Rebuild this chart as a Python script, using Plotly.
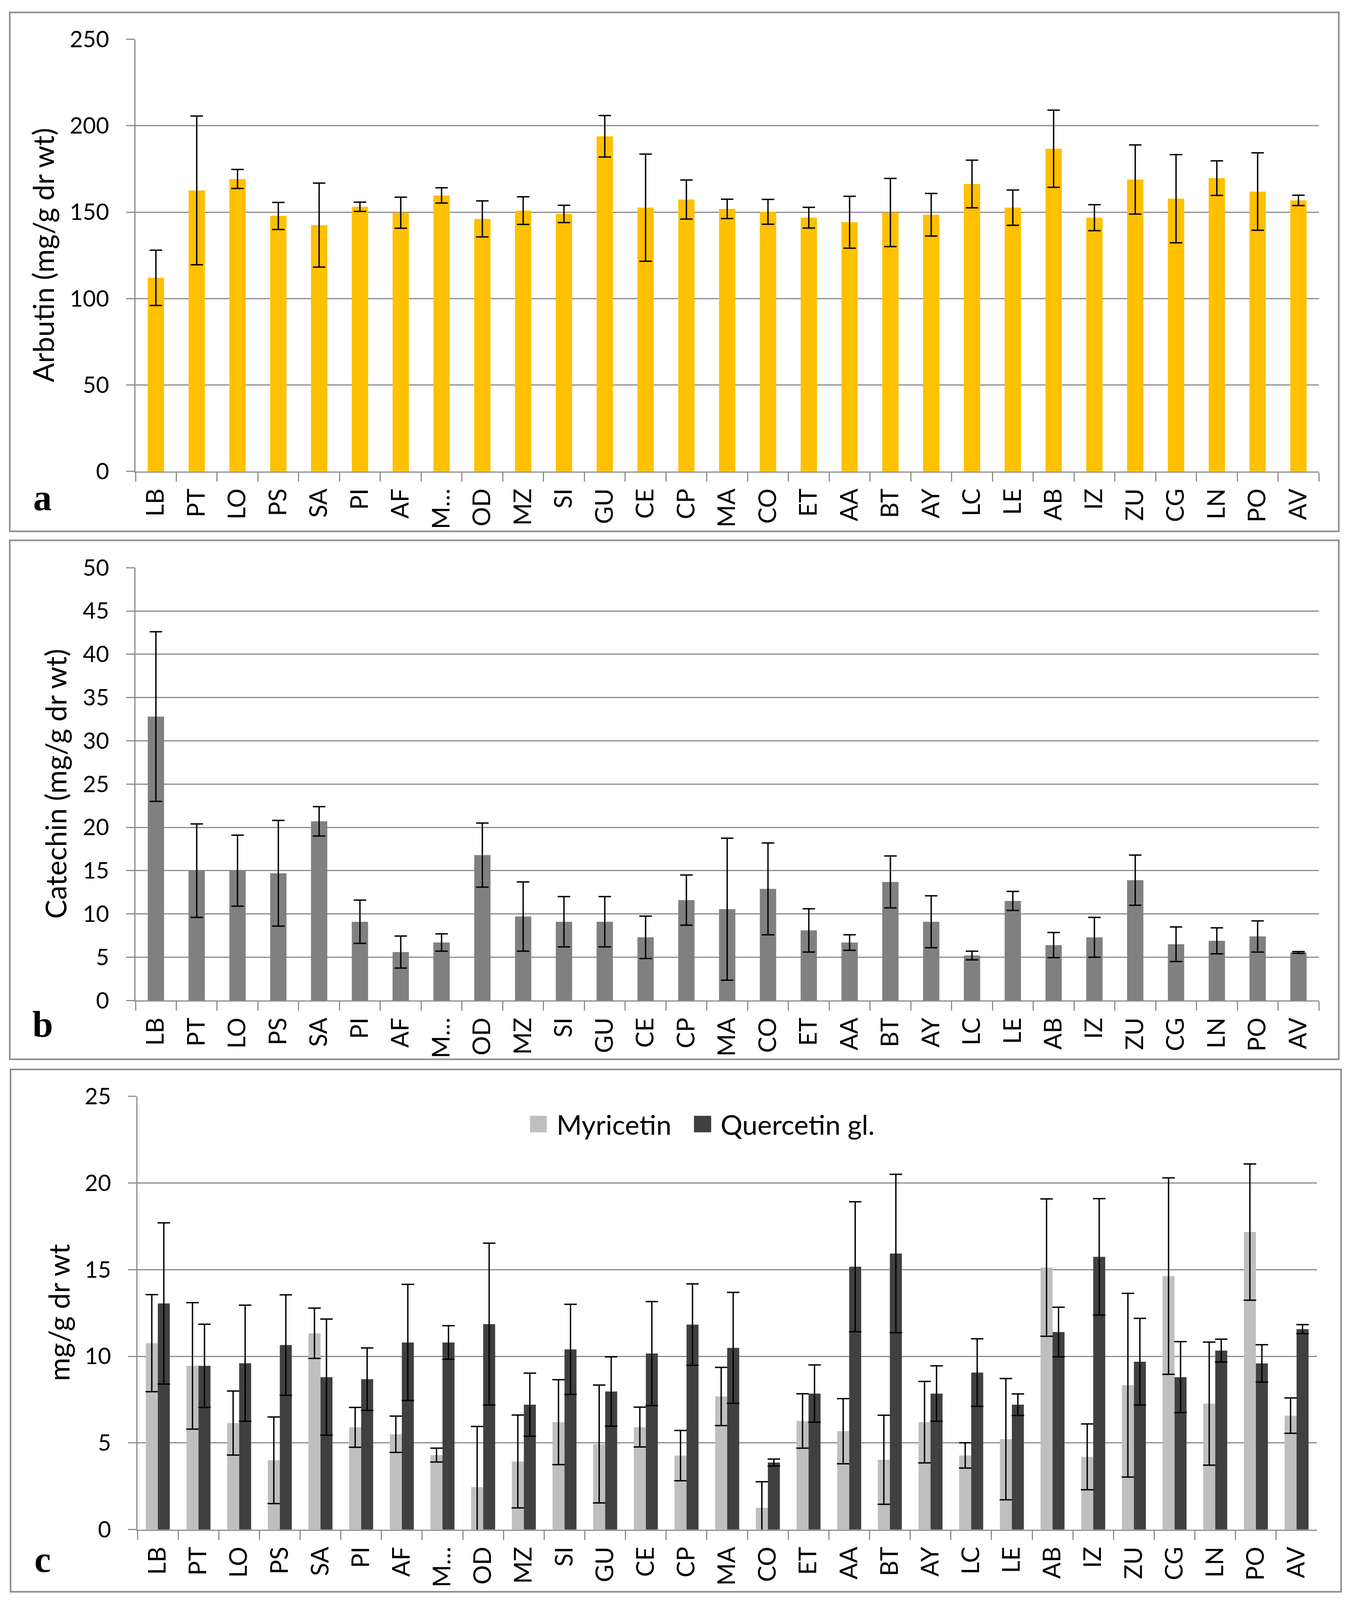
import plotly.graph_objects as go

categories = ["LB", "PT", "LO", "PS", "SA", "PI", "AF", "M…", "OD", "MZ", "SI", "GU", "CE", "CP", "MA",
              "CO", "ET", "AA", "BT", "AY", "LC", "LE", "AB", "IZ", "ZU", "CG", "LN", "PO", "AV"]

arbutin = [112, 162.6, 169.2, 147.8, 142.5, 153.1, 149.7, 159.7, 146.1, 150.9, 149.0, 193.9, 152.6, 157.3, 151.9,
           150.2, 146.8, 144.2, 149.8, 148.5, 166.3, 152.6, 186.7, 146.8, 168.9, 157.8, 169.7, 161.9, 156.8]
arbutin_err = [16, 43, 5.5, 7.8, 24.3, 2.7, 9, 4.4, 10.4, 8, 5, 12, 31, 11.3, 5.6,
               7.2, 6, 15, 19.7, 12.3, 13.8, 10.2, 22.3, 7.5, 20, 25.5, 10, 22.4, 3]

catechin = [32.8, 15.0, 15.0, 14.7, 20.7, 9.1, 5.6, 6.7, 16.8, 9.7, 9.1, 9.1, 7.3, 11.6, 10.55,
            12.9, 8.1, 6.7, 13.7, 9.1, 5.2, 11.5, 6.4, 7.3, 13.9, 6.5, 6.9, 7.4, 5.55]
catechin_err = [9.8, 5.4, 4.1, 6.1, 1.7, 2.5, 1.85, 1.0, 3.7, 4.0, 2.9, 2.9, 2.45, 2.9, 8.2,
                5.3, 2.5, 0.9, 3.0, 3.0, 0.5, 1.1, 1.45, 2.3, 2.9, 2.0, 1.5, 1.8, 0.1]

myricetin = [10.76, 9.45, 6.15, 4.0, 11.33, 5.9, 5.5, 4.3, 2.45, 3.93, 6.2, 4.94, 5.92, 4.27, 7.68,
             1.26, 6.27, 5.68, 4.03, 6.2, 4.28, 5.22, 15.12, 4.2, 8.33, 14.63, 7.27, 17.17, 6.58]
myricetin_err = [2.8, 3.65, 1.85, 2.5, 1.45, 1.15, 1.05, 0.4, 3.5, 2.68, 2.45, 3.4, 1.15, 1.45, 1.68,
                 1.5, 1.57, 1.88, 2.57, 2.35, 0.73, 3.5, 3.96, 1.9, 5.3, 5.67, 3.55, 3.93, 1.02]
quercetin = [13.05, 9.45, 9.6, 10.65, 8.8, 8.68, 10.8, 10.8, 11.86, 7.21, 10.4, 7.97, 10.16, 11.83, 10.49,
             3.87, 7.85, 15.17, 15.93, 7.85, 9.06, 7.21, 11.4, 15.74, 9.69, 8.8, 10.33, 9.59, 11.57]
quercetin_err = [4.65, 2.4, 3.35, 2.9, 3.35, 1.8, 3.35, 0.97, 4.67, 1.82, 2.6, 2.0, 3.0, 2.35, 3.2,
                 0.2, 1.65, 3.75, 4.57, 1.6, 1.95, 0.62, 1.43, 3.36, 2.5, 2.05, 0.66, 1.08, 0.26]

series_names = ["Myricetin", "Quercetin gl."]
series_colors = ["#BFBFBF", "#404040"]

# reference frame size used to express positions as fractions of the page
W, H = 3467, 4273
GRID = "#8C8C8C"
FONT = "Lato"
TICKFONT = dict(family=FONT, size=58, color="black")
CATFONT = dict(family=FONT, size=62, color="black")


def py(y):
    return 1 - y / H


def px(x):
    return x / W


def err(arr):
    return dict(type="data", array=arr, visible=True, color="black", thickness=3.5, width=16)


fig = go.Figure()

fig.add_trace(go.Bar(x=categories, y=arbutin, marker_color="#FFC000", marker_line_width=0, width=0.4,
                     error_y=err(arbutin_err), xaxis="x", yaxis="y", showlegend=False))
fig.add_trace(go.Bar(x=categories, y=catechin, marker_color="#808080", marker_line_width=0, width=0.4,
                     error_y=err(catechin_err), xaxis="x2", yaxis="y2", showlegend=False))
fig.add_trace(go.Bar(x=categories, y=myricetin, name=series_names[0], marker_color=series_colors[0],
                     marker_line_width=0, error_y=err(myricetin_err), xaxis="x3", yaxis="y3", showlegend=False))
fig.add_trace(go.Bar(x=categories, y=quercetin, name=series_names[1], marker_color=series_colors[1],
                     marker_line_width=0, error_y=err(quercetin_err), xaxis="x3", yaxis="y3", showlegend=False))

panels = [
    # (x0, x1, ytop, ybottom, range, dtick)
    (347, 3377, 105, 1259, [0, 250], 50),
    (347, 3377, 1516, 2672, [0, 50], 5),
    (352, 3372, 2928, 4085, [0, 25], 5),
]

layout = dict(
    template="none",
    autosize=True,
    margin=dict(l=0, r=0, t=0, b=0, pad=0, autoexpand=False),
    paper_bgcolor="white", plot_bgcolor="white",
    barmode="group", bargap=0.41, bargroupgap=0,
    font=dict(family=FONT, color="black"),
    showlegend=False,
)

for i, (x0, x1, yt, yb, rng, dt) in enumerate(panels):
    sfx = "" if i == 0 else str(i + 1)
    layout["xaxis" + sfx] = dict(
        domain=[px(x0), px(x1)], anchor="y" + sfx, type="category", automargin=False,
        showline=True, linecolor=GRID, linewidth=3, showgrid=False, zeroline=False,
        ticks="outside", ticklen=23, tickwidth=3, tickcolor=GRID, tickson="boundaries",
        tickangle=-90, tickfont=CATFONT, ticklabelstandoff=16,
    )
    layout["yaxis" + sfx] = dict(
        domain=[py(yb), py(yt)], anchor="x" + sfx, range=rng, dtick=dt, automargin=False,
        showline=True, linecolor=GRID, linewidth=3,
        showgrid=True, gridcolor=GRID, gridwidth=3, zeroline=False,
        ticks="outside", ticklen=21, tickwidth=3, tickcolor=GRID,
        tickfont=TICKFONT, ticklabelstandoff=32,
    )

fig.update_layout(**layout)

# panel frames
frames = [(25, 33, 3428, 1419), (25, 1443, 3428, 2829), (27, 2856, 3434, 4251)]
for (a, b, c, d) in frames:
    fig.add_shape(type="rect", xref="paper", yref="paper", x0=px(a), x1=px(c), y0=py(d), y1=py(b),
                  line=dict(color=GRID, width=4), fillcolor="rgba(0,0,0,0)", layer="below")

# legend for panel c (squares + text)
legend_items = [(1357, 1400, 1423), (1777, 1821, 1843)]
for (s0, s1, tx), name, col in zip(legend_items, series_names, series_colors):
    fig.add_shape(type="rect", xref="paper", yref="paper", x0=px(s0), x1=px(s1), y0=py(3024), y1=py(2980),
                  line=dict(width=0), fillcolor=col)
    fig.add_annotation(text=name, x=px(tx), y=py(3002), xref="paper", yref="paper", showarrow=False,
                       xanchor="left", yanchor="middle", font=dict(family=FONT, size=70, color="black"))

# axis titles
titles = [("Arbutin (mg/g dr wt)", 110, 682), ("Catechin (mg/g dr wt)", 142, 2094), ("mg/g dr wt", 150, 3506)]
for t, x, y in titles:
    fig.add_annotation(text=t, x=px(x), y=py(y), xref="paper", yref="paper", textangle=-90,
                       showarrow=False, font=dict(family=FONT, size=73, color="black"),
                       xanchor="center", yanchor="middle")

# panel letters
for t, x, y in [("a", 109, 1329), ("b", 109, 2735), ("c", 109, 4164)]:
    fig.add_annotation(text="<b>%s</b>" % t, x=px(x), y=py(y), xref="paper", yref="paper",
                       showarrow=False, font=dict(family="Liberation Serif", size=95, color="black"),
                       xanchor="center", yanchor="middle")

fig.write_html(
    "out.html",
    default_width="100vw",
    default_height="100vh",
    config={"displayModeBar": False, "responsive": True},
    post_script="document.body.style.margin='0';document.body.style.overflow='hidden';",
)
